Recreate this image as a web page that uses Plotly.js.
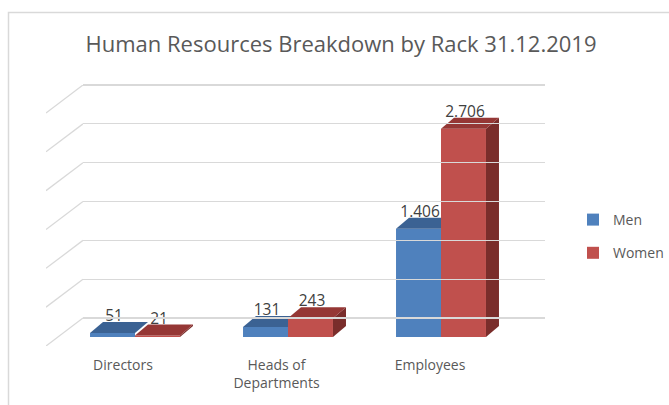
<!DOCTYPE html>
<html>
<head>
<meta charset="utf-8">
<script src="https://cdn.plot.ly/plotly-3.0.1.min.js"></script>
<style>html,body{margin:0;padding:0;background:#fff;}#chart{width:669px;height:405px;}</style>
</head>
<body>
<div id="chart"></div>
<script>
// ---- data ----
const categories = ["Directors", "Heads of<br>Departments", "Employees"];
const seriesNames = ["Men", "Women"];
const menValues = [51, 131, 1406];
const womenValues = [21, 243, 2706];
const gridTicks = [0, 500, 1000, 1500, 2000, 2500, 3000];

// ---- styling / geometry ----
const W = 669, H = 405;
const px = v => v / W;
const py = v => 1 - v / H;
const FONT = '"Open Sans", "Noto Sans", sans-serif';
const TXT = '#595959';
const menFront = '#4F81BD', menTop = '#3B6293';
const womenFront = '#C0504D', womenTop = '#953735', womenSide = '#7A2D2B';
const barW = 0.294;              // bar width in category units
const depthX = 13 / 153;         // depth offset in category units
const depthY = 11 / 0.0772;      // depth offset in value units
const labelLift = 8 / 0.0772;    // label anchor lift in value units
const xs = categories.map((c, i) => i);

function topFace(x0, x1, v) {
  return { x: [x0, x1, x1 + depthX, x0 + depthX, x0], y: [v, v, v + depthY, v + depthY, v] };
}
function sideFace(x1, v) {
  return { x: [x1, x1, x1 + depthX, x1 + depthX, x1], y: [0, v, v + depthY, depthY, 0] };
}
function polyTrace(poly, color, xa, ya) {
  return { type: 'scatter', mode: 'lines', x: poly.x, y: poly.y, fill: 'toself',
    fillcolor: color, line: { width: 0, color: color }, hoverinfo: 'skip',
    showlegend: false, xaxis: xa, yaxis: ya };
}

const traces = [];
// back-wall gridline carrier (invisible)
traces.push({ type: 'scatter', x: [0], y: [0], mode: 'markers', marker: { opacity: 0 },
  showlegend: false, hoverinfo: 'skip', xaxis: 'x2', yaxis: 'y2' });
// diagonal side-wall lines
gridTicks.forEach(v => {
  traces.push({ type: 'scatter', mode: 'lines', x: [0, 1], y: [v - 360, v],
    line: { color: '#D9D9D9', width: 1.3 }, showlegend: false, hoverinfo: 'skip',
    xaxis: 'x3', yaxis: 'y3' });
});
// category label carrier
traces.push({ type: 'scatter', x: xs, y: [0, 0, 0], mode: 'markers', marker: { opacity: 0 },
  showlegend: false, hoverinfo: 'skip', xaxis: 'x4', yaxis: 'y4' });

// Men bars (front faces) + top faces
traces.push({ type: 'bar', name: seriesNames[0], x: xs, y: menValues, width: barW, offset: -barW,
  marker: { color: menFront, line: { width: 0 } }, legendgroup: 'a', xaxis: 'x', yaxis: 'y' });
xs.forEach((x, i) => traces.push(polyTrace(topFace(x - barW, x, menValues[i]), menTop, 'x', 'y')));

// Women bars (front) + top + side faces on overlay so they sit above men
traces.push({ type: 'bar', name: seriesNames[1], x: xs, y: womenValues, width: barW, offset: 0,
  marker: { color: womenFront, line: { width: 0 } }, legendgroup: 'b', xaxis: 'x5', yaxis: 'y5' });
xs.forEach((x, i) => {
  traces.push(polyTrace(sideFace(x + barW, womenValues[i]), womenSide, 'x5', 'y5'));
  traces.push(polyTrace(topFace(x, x + barW, womenValues[i]), womenTop, 'x5', 'y5'));
});

// data labels
const labelFont = { family: FONT, size: 15.5, color: '#404040' };
traces.push({ type: 'scatter', mode: 'text', x: xs.map(x => x - barW / 2 + 0.01),
  y: menValues.map(v => v + labelLift), text: menValues, texttemplate: '%{text:,}',
  textposition: 'top center', textfont: labelFont,
  showlegend: false, hoverinfo: 'skip', cliponaxis: false, xaxis: 'x5', yaxis: 'y5' });
traces.push({ type: 'scatter', mode: 'text', x: xs.map(x => x + barW / 2 + 0.01),
  y: womenValues.map(v => v + labelLift), text: womenValues, texttemplate: '%{text:,}',
  textposition: 'top center', textfont: labelFont,
  showlegend: false, hoverinfo: 'skip', cliponaxis: false, xaxis: 'x5', yaxis: 'y5' });

const hidden = { showgrid: false, zeroline: false, showticklabels: false, showline: false, ticks: '', fixedrange: true };
const frontX = Object.assign({}, hidden, { domain: [px(58.5), px(517.5)], range: [-0.5, 2.5] });
const frontY = Object.assign({}, hidden, { domain: [py(337), py(67.5)], range: [0, 3500] });

const layout = {
  width: W, height: H, autosize: false,
  margin: { l: 0, r: 0, t: 0, b: 0, pad: 0 },
  paper_bgcolor: '#ffffff', plot_bgcolor: 'rgba(0,0,0,0)',
  separators: ',.',
  barmode: 'overlay',
  title: { text: 'Human Resources Breakdown by Rack 31.12.2019', x: px(341), xanchor: 'center',
    y: py(44), yanchor: 'middle', font: { family: FONT, size: 22, color: TXT } },
  xaxis: frontX,
  yaxis: frontY,
  xaxis5: Object.assign({}, frontX, { overlaying: 'x', anchor: 'y5' }),
  yaxis5: Object.assign({}, frontY, { overlaying: 'y', anchor: 'x5' }),
  xaxis2: Object.assign({}, hidden, { domain: [px(83), px(545)], range: [0, 1], anchor: 'y2' }),
  yaxis2: Object.assign({}, hidden, { domain: [py(321.1), py(81.9)], range: [-40, 3040], showgrid: true,
    gridcolor: '#D9D9D9', gridwidth: 1.3, tickvals: gridTicks, anchor: 'x2' }),
  xaxis3: Object.assign({}, hidden, { domain: [px(46), px(83)], range: [0, 1], anchor: 'y3' }),
  yaxis3: Object.assign({}, hidden, { domain: [py(346), py(85)], range: [-360, 3000], anchor: 'x3' }),
  xaxis4: { domain: [px(46.25), px(506.75)], range: [-0.5, 2.5], tickvals: xs, ticktext: categories,
    showgrid: false, zeroline: false, showline: false, ticks: '', anchor: 'free', position: py(355),
    tickfont: { family: FONT, size: 14, color: TXT }, fixedrange: true },
  yaxis4: Object.assign({}, hidden, { domain: [py(360), py(350)], range: [0, 1], anchor: 'x4' }),
  legend: { x: 1, xanchor: 'right', y: py(204), yanchor: 'top',
    traceorder: 'grouped', tracegroupgap: 12, font: { family: FONT, size: 14, color: TXT },
    bgcolor: 'rgba(0,0,0,0)' },
  shapes: [{ type: 'rect', xref: 'paper', yref: 'paper', x0: px(8.5), x1: 1.05, y0: -0.05, y1: py(12.5),
    line: { color: '#D9D9D9', width: 1.5 }, fillcolor: 'rgba(0,0,0,0)', layer: 'below' }],
  showlegend: true
};

Plotly.newPlot('chart', traces, layout, { displayModeBar: false, staticPlot: true });
</script>
</body>
</html>
